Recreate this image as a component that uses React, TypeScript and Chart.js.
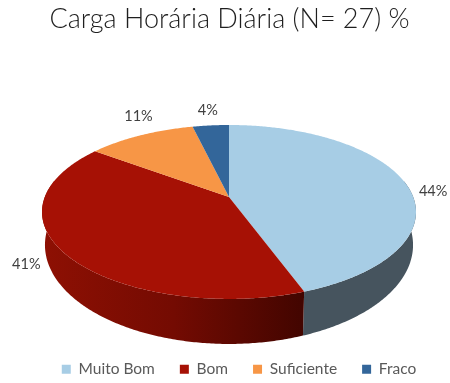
import React, { useEffect, useRef } from "react";
import { Chart, registerables } from "chart.js";

Chart.register(...registerables);

const categories = ["Muito Bom", "Bom", "Suficiente", "Fraco"];
const counts = [12, 11, 3, 1];
const topColors = ["#A7CDE5", "#A61105", "#F79646", "#33669A"];
const titleText = "Carga Horária Diária (N= 27) %";

// projection of the pie disc (perspective view)
const CX = 229;
const K = 0.172;
const TOP = { cy: 197, a: 184.2, b: 84.4 };
const BOTTOM = { cy: 228, a: 181.3, b: 96 };
const labelNudges = [[28, 9], [-38, 11], [-2, -19], [-3, -15]];

const project = (face: { cy: number; a: number; b: number }, ang: number) => {
  const u = Math.cos(ang);
  const v = Math.sin(ang);
  const w = 1 - K * v;
  return [CX + (face.a * u) / w, face.cy + (face.b * v) / w];
};

const steps = (start: number, end: number) => {
  const n = Math.max(2, Math.ceil((end - start) / 0.01));
  const out: number[] = [];
  for (let i = 0; i <= n; i++) out.push(start + ((end - start) * i) / n);
  return out;
};

const pie3d = {
  id: "pie3d",
  afterLayout(chart: any) {
    chart.legend.left += 9.5;
    chart.legend.right += 9.5;
    chart.legend.top += 4;
    chart.legend.bottom += 4;
  },
  beforeDatasetDraw(chart: any) {
    const ctx = chart.ctx as CanvasRenderingContext2D;
    const arcs = chart.getDatasetMeta(0).data;
    ctx.save();
    arcs.forEach((arc: any, i: number) => {
      const angs = steps(arc.startAngle, arc.endAngle).filter((a) => Math.sin(a) > -0.2);
      if (angs.length < 2) return;
      ctx.beginPath();
      angs.forEach((a, j) => {
        const p = project(TOP, a);
        j ? ctx.lineTo(p[0], p[1]) : ctx.moveTo(p[0], p[1]);
      });
      [...angs].reverse().forEach((a) => {
        const p = project(BOTTOM, a);
        ctx.lineTo(p[0], p[1]);
      });
      ctx.closePath();
      if (i === 1) {
        const g = ctx.createLinearGradient(42, 0, 304, 0);
        g.addColorStop(0, "#8E1003");
        g.addColorStop(0.5, "#740B02");
        g.addColorStop(1, "#420500");
        ctx.fillStyle = g;
      } else {
        ctx.fillStyle = "#46545E";
      }
      ctx.fill();
    });
    arcs.forEach((arc: any, i: number) => {
      ctx.beginPath();
      ctx.moveTo(CX, TOP.cy);
      steps(arc.startAngle, arc.endAngle).forEach((a) => {
        const p = project(TOP, a);
        ctx.lineTo(p[0], p[1]);
      });
      ctx.closePath();
      ctx.fillStyle = topColors[i];
      ctx.fill();
    });
    ctx.restore();
    return false;
  },
  afterDraw(chart: any) {
    const ctx = chart.ctx as CanvasRenderingContext2D;
    const total = counts.reduce((s, c) => s + c, 0);
    ctx.save();
    ctx.font = "14.5px Lato";
    ctx.fillStyle = "#404040";
    ctx.textAlign = "center";
    ctx.textBaseline = "middle";
    chart.getDatasetMeta(0).data.forEach((arc: any, i: number) => {
      const p = project(TOP, (arc.startAngle + arc.endAngle) / 2);
      const text = Math.round((counts[i] / total) * 100) + "%";
      ctx.fillText(text, p[0] + labelNudges[i][0], p[1] + labelNudges[i][1]);
    });
    ctx.restore();
  },
};

export default function App() {
  const ref = useRef<HTMLCanvasElement>(null);
  useEffect(() => {
    document.body.style.margin = "0";
    const chart = new Chart(ref.current!, {
      type: "pie",
      data: {
        labels: categories,
        datasets: [{ data: counts, backgroundColor: topColors, borderWidth: 0 }],
      },
      options: {
        animation: false,
        responsive: false,
        layout: { padding: { left: 9 } },
        plugins: {
          title: {
            display: true,
            text: titleText,
            color: "#1F1F1F",
            font: { family: "Lato", size: 27, weight: "300" },
            padding: { top: 3, bottom: 10 },
          },
          legend: {
            position: "bottom",
            labels: {
              boxWidth: 9,
              boxHeight: 9,
              padding: 25,
              color: "#595959",
              font: { family: "Lato", size: 15.5 },
            },
          },
          tooltip: { enabled: false },
        },
      },
      plugins: [pie3d],
    } as any);
    return () => chart.destroy();
  }, []);
  return <canvas ref={ref} width={450} height={383} style={{ display: "block" }} />;
}
